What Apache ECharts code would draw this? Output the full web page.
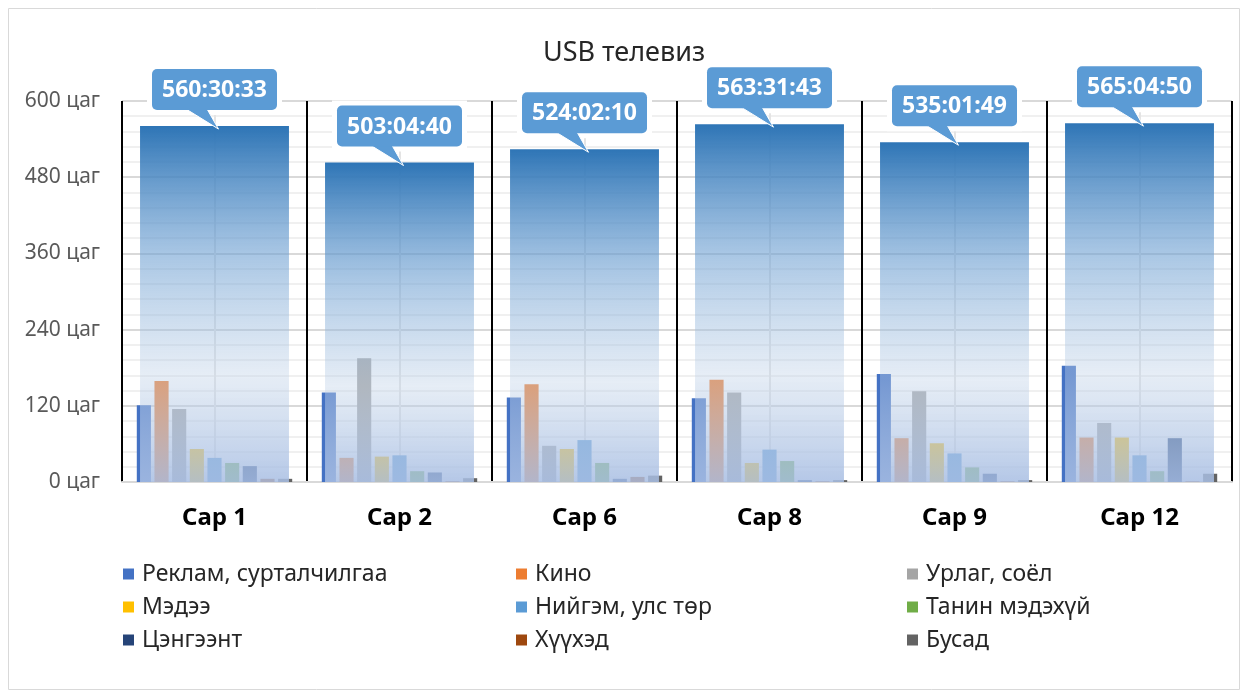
<!DOCTYPE html>
<html>
<head>
<meta charset="utf-8">
<title>USB телевиз</title>
<script src="https://cdn.jsdelivr.net/npm/echarts@6/dist/echarts.min.js"></script>
<style>
  html, body { margin: 0; padding: 0; background: #fff; }
  #main { width: 1248px; height: 699px; }
</style>
</head>
<body>
<div id="main"></div>
<script>
// Сарууд
var categories = ['Сар 1', 'Сар 2', 'Сар 6', 'Сар 8', 'Сар 9', 'Сар 12'];
var seriesNames = ['Реклам, сурталчилгаа', 'Кино', 'Урлаг, соёл', 'Мэдээ', 'Нийгэм, улс төр',
  'Танин мэдэхүй', 'Цэнгээнт', 'Хүүхэд', 'Бусад'];
var colors = ['#4472c4', '#ed7d31', '#a5a5a5', '#ffc000', '#5b9bd5', '#70ad47', '#264478', '#9e480e', '#636363'];

// цагаар
var reklam = [121, 141, 133, 132, 170, 183];
var kino = [159, 38, 154, 161, 69, 70];
var urlag = [115, 195, 57, 141, 143, 93];
var medee = [52, 40, 52, 30, 61, 70];
var niigem = [38, 42, 66, 51, 45, 42];
var tanin = [30, 17, 30, 33, 23, 17];
var tsengeent = [25, 15, 5, 3, 13, 69];
var khuukhed = [5, 1, 8, 1, 1, 1];
var busad = [5, 6, 10, 3, 3, 13];
var seriesValues = [reklam, kino, urlag, medee, niigem, tanin, tsengeent, khuukhed, busad];

// нийт хугацаа цаг:мин:сек
var totalLabels = ['560:30:33', '503:04:40', '524:02:10', '563:31:43', '535:01:49', '565:04:50'];
var yTicks = [0, 120, 240, 360, 480, 600];

var FONT = '"Noto Sans", "DejaVu Sans", sans-serif';

function toHours(s) {
  var p = s.split(':');
  return +p[0] + p[1] / 60 + p[2] / 3600;
}
var totals = totalLabels.map(toHours);

var chart = echarts.init(document.getElementById('main'));

var series = [];
for (var i = 0; i < seriesNames.length; i++) {
  series.push({
    name: seriesNames[i],
    type: 'bar',
    xAxisIndex: 0,
    yAxisIndex: 0,
    barGap: '25%',
    barCategoryGap: '16%',
    z: 2,
    itemStyle: { color: colors[i] },
    data: seriesValues[i]
  });
}

// нийт (дээрээс нь хагас тунгалаг)
series.push({
  name: 'Нийт',
  type: 'bar',
  xAxisIndex: 1,
  yAxisIndex: 0,
  barWidth: '80.5%',
  z: 3,
  itemStyle: {
    color: new echarts.graphic.LinearGradient(0, 0, 0, 1, [
      { offset: 0, color: 'rgba(46,117,182,1)' },
      { offset: 0.36, color: 'rgba(110,160,210,0.6)' },
      { offset: 0.7, color: 'rgba(192,210,232,0.4)' },
      { offset: 1, color: 'rgba(168,190,227,0.86)' }
    ])
  },
  data: totals
});

// дуудлага хайрцаг
series.push({
  name: 'label',
  type: 'custom',
  xAxisIndex: 0,
  yAxisIndex: 0,
  z: 10,
  clip: false,
  silent: true,
  encode: { x: 0, y: 1 },
  data: totals.map(function(v, k) { return [k, v]; }),
  renderItem: function(params, api) {
    var p = api.coord([api.value(0), api.value(1)]);
    var cx = p[0], ty = p[1];
    var bw = 125, bh = 41, bb = ty - 16;
    return {
      type: 'group',
      children: [
        { type: 'rect', shape: { x: cx - bw / 2 - 5, y: bb - bh - 5, width: bw + 10, height: bh + 10 }, style: { fill: '#fff' } },
        { type: 'polygon', shape: { points: [[cx - 30, bb - 2], [cx - 8, bb - 2], [cx + 4, ty + 3]] },
          style: { fill: '#5b9bd5', stroke: '#fff', lineWidth: 1 } },
        { type: 'rect', shape: { x: cx - bw / 2, y: bb - bh, width: bw, height: bh, r: 5 }, style: { fill: '#5b9bd5' } },
        { type: 'text', style: {
          text: totalLabels[params.dataIndex], x: cx, y: bb - bh / 2 + 1,
          align: 'center', verticalAlign: 'middle', fill: '#fff',
          fontSize: 23, fontWeight: 'bold', fontFamily: FONT
        } }
      ]
    };
  }
});

function legendCol(left, names) {
  return {
    left: left,
    top: 556,
    orient: 'vertical',
    icon: 'rect',
    itemWidth: 11,
    itemHeight: 11,
    itemGap: 7,
    selectedMode: false,
    textStyle: { fontSize: 23, lineHeight: 26, color: '#262626', fontFamily: FONT, padding: [0, 0, 0, 3] },
    data: names
  };
}

chart.setOption({
  animation: false,
  textStyle: { fontFamily: FONT },
  title: {
    text: 'USB телевиз',
    left: 'center',
    top: 35,
    textStyle: { fontSize: 27, fontWeight: 'normal', color: '#262626', fontFamily: FONT }
  },
  graphic: [{
    type: 'rect',
    shape: { x: 8.5, y: 8.5, width: 1231, height: 681 },
    style: { fill: 'none', stroke: '#d9d9d9', lineWidth: 1 },
    z: -10
  }],
  legend: [
    legendCol(118, [seriesNames[0], seriesNames[3], seriesNames[6]]),
    legendCol(511, [seriesNames[1], seriesNames[4], seriesNames[7]]),
    legendCol(902, [seriesNames[2], seriesNames[5], seriesNames[8]])
  ],
  grid: { left: 122, right: 16, top: 101, bottom: 217 },
  xAxis: [
    {
      type: 'category',
      data: categories,
      axisLine: { show: true, lineStyle: { color: '#d9d9d9', width: 2 } },
      axisTick: { show: false },
      splitLine: { show: false },
      axisLabel: { fontSize: 24, fontWeight: 'bold', color: '#000', margin: 24, fontFamily: FONT }
    },
    { type: 'category', data: categories, show: false },
    {
      type: 'value',
      min: 0,
      max: 6,
      interval: 0.5,
      axisLine: { show: false },
      axisTick: { show: false },
      axisLabel: { show: false },
      splitLine: { show: true, lineStyle: { color: ['#000000', '#e4e4e4'], width: 2 } }
    }
  ],
  yAxis: {
    type: 'value',
    min: yTicks[0],
    max: yTicks[yTicks.length - 1],
    interval: 120,
    axisLine: { show: false },
    axisTick: { show: false },
    axisLabel: { formatter: '{value} цаг', fontSize: 21, color: '#595959', margin: 22, fontFamily: FONT },
    splitLine: { show: true, lineStyle: { color: '#d9d9d9', width: 2 } },
    minorTick: { show: false, splitNumber: 5 },
    minorSplitLine: { show: true, lineStyle: { color: '#f0f0f0', width: 2 } }
  },
  series: series
});
</script>
</body>
</html>
